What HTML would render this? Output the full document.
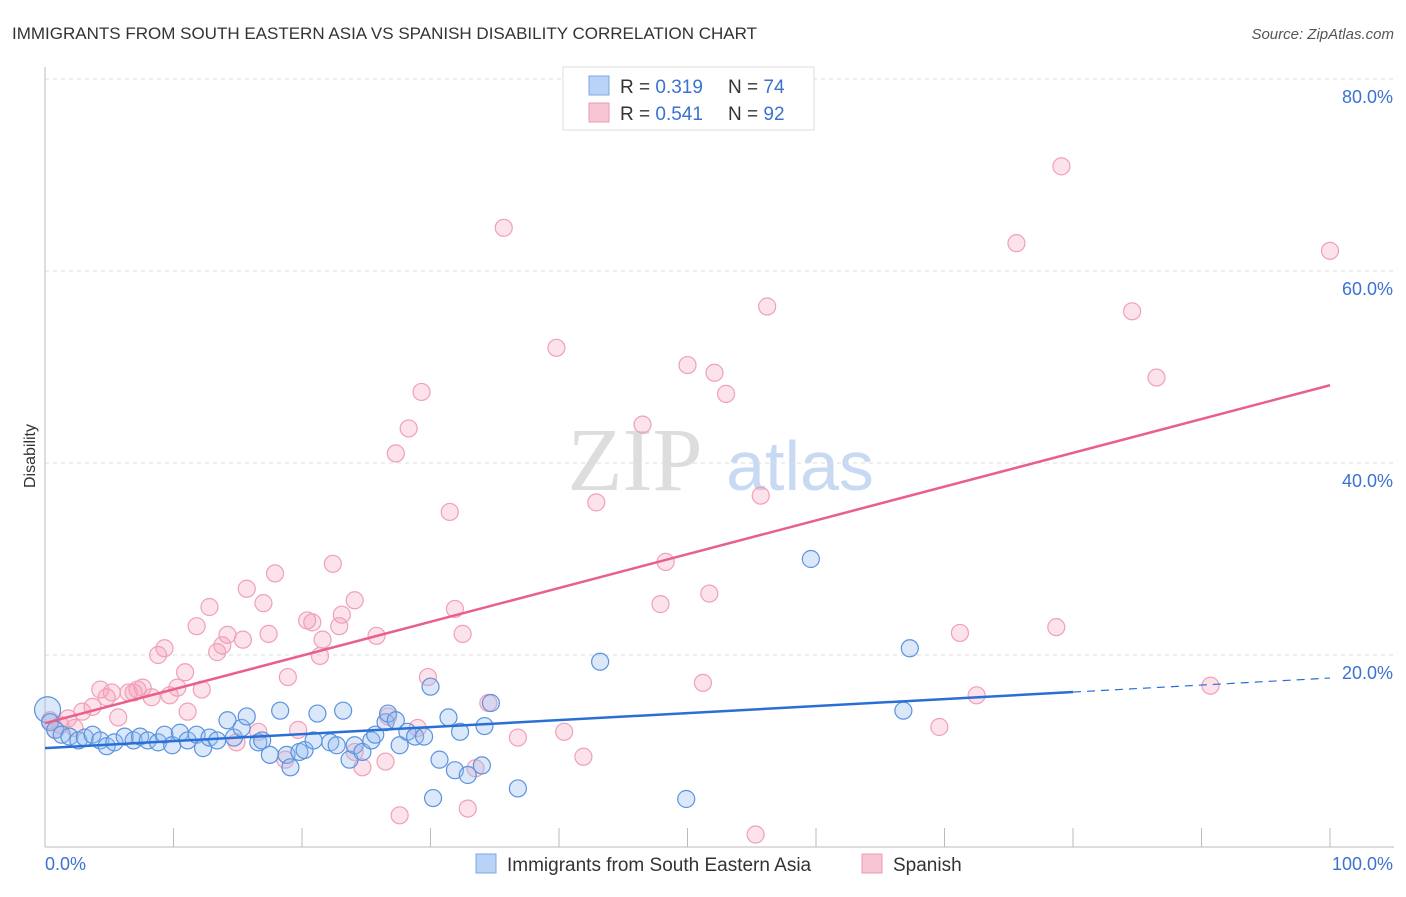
<!DOCTYPE html>
<html><head><meta charset="utf-8"><style>
body{margin:0;background:#fff;font-family:"Liberation Sans",sans-serif;}
</style></head><body>
<svg id="chart" width="1406" height="892" xmlns="http://www.w3.org/2000/svg" font-family="Liberation Sans, sans-serif">
<text x="12" y="39" font-size="17" fill="#333">IMMIGRANTS FROM SOUTH EASTERN ASIA VS SPANISH DISABILITY CORRELATION CHART</text>
<text x="1394" y="39" font-size="15" font-style="italic" fill="#555" text-anchor="end">Source: ZipAtlas.com</text>
<text x="35" y="456" font-size="16" fill="#333" text-anchor="middle" transform="rotate(-90 35 456)">Disability</text>
<g>
<text x="635" y="490" font-size="90" fill="#ddd" font-family="Liberation Serif, serif" text-anchor="middle">ZIP</text>
<text x="800" y="490" font-size="70" fill="#c8daf3" text-anchor="middle">atlas</text>
</g>
<g id="grid"></g><g id="axes"></g><g id="marks"></g><g id="lines"></g>
<g>
<rect x="563" y="67" width="251" height="63" fill="#fff" stroke="#ddd"/>
<rect x="589" y="76" width="20" height="19" fill="#b8d3f5" stroke="#7aa7e3"/>
<rect x="589" y="103" width="20" height="19" fill="#f8c5d4" stroke="#ee9ab3"/>
<text x="620" y="93" font-size="19" fill="#333">R = <tspan fill="#3a72d0">0.319</tspan></text>
<text x="728" y="93" font-size="19" fill="#333">N = <tspan fill="#3a72d0">74</tspan></text>
<text x="620" y="120" font-size="19" fill="#333">R = <tspan fill="#3a72d0">0.541</tspan></text>
<text x="728" y="120" font-size="19" fill="#333">N = <tspan fill="#3a72d0">92</tspan></text>
</g>
<g>
<rect x="476" y="854" width="20" height="19" fill="#b8d3f5" stroke="#7aa7e3"/>
<text x="507" y="871" font-size="19" fill="#333">Immigrants from South Eastern Asia</text>
<rect x="862" y="854" width="20" height="19" fill="#f8c5d4" stroke="#ee9ab3"/>
<text x="893" y="871" font-size="19" fill="#333">Spanish</text>
</g>
</svg>
<script>
const yTicks=[20,40,60,80];
const yTickLabels=["20.0%","40.0%","60.0%","80.0%"];
const xTickLabels=["0.0%","100.0%"];
const blueX=[0.2,0.4,0.8,1.3,1.9,2.6,3.1,3.7,4.3,4.8,5.4,6.2,6.9,7.4,8.0,8.8,9.3,9.9,10.5,11.1,11.8,12.3,12.8,13.4,14.2,14.7,15.3,15.7,16.6,16.9,17.5,18.3,18.8,19.1,19.8,20.2,20.9,21.2,22.2,22.7,23.2,23.7,24.1,24.7,25.4,25.7,26.5,26.7,27.3,27.6,28.2,28.8,29.5,30.0,30.2,30.7,31.4,31.9,32.3,32.9,34.0,34.2,34.7,36.8,43.2,49.9,59.6,67.3,66.8];
const blueY=[14.3,13.0,12.2,11.7,11.5,11.1,11.4,11.7,11.1,10.5,10.9,11.5,11.1,11.5,11.1,10.9,11.7,10.6,11.9,11.1,11.7,10.3,11.4,11.1,13.2,11.4,12.4,13.6,10.9,11.1,9.6,14.2,9.6,8.3,9.9,10.1,11.1,13.9,10.9,10.6,14.2,9.1,10.6,9.9,11.1,11.7,13.0,13.9,13.2,10.6,12.0,11.5,11.5,16.7,5.1,9.1,13.5,8.0,12.0,7.5,8.5,12.6,15.0,6.1,19.3,5.0,30.0,20.7,14.2];
const pinkX=[0.4,0.8,1.2,1.8,2.3,2.9,3.7,4.3,4.8,5.2,5.7,6.5,6.9,7.2,7.6,8.3,8.8,9.3,9.7,10.3,10.9,11.1,11.8,12.2,12.8,13.4,13.8,14.2,14.9,15.4,15.7,16.6,17.0,17.4,17.9,18.7,18.9,19.7,20.4,20.8,21.4,21.6,22.4,22.9,23.1,24.1,24.1,24.7,25.8,26.5,26.7,27.6,27.3,28.3,29.0,29.3,29.8,31.5,31.9,32.5,32.9,33.5,34.5,35.7,36.8,39.8,40.4,41.9,42.9,46.5,47.9,48.3,50.0,51.2,51.7,52.1,53.0,55.3,55.7,56.2,69.6,71.2,72.5,75.6,78.7,79.1,84.6,86.5,90.7,100];
const pinkY=[13.2,12.2,12.7,13.4,12.4,14.1,14.6,16.4,15.6,16.1,13.5,16.1,16.1,16.4,16.6,15.6,20.0,20.7,15.8,16.6,18.2,14.1,23.0,16.4,25.0,20.3,21.0,22.1,10.9,21.6,26.9,12.0,25.4,22.2,28.5,9.1,17.7,12.2,23.6,23.4,19.9,21.6,29.5,23.0,24.2,25.7,9.9,8.3,22.0,8.9,13.6,3.3,41.0,43.6,12.4,47.4,17.7,34.9,24.8,22.2,4.0,8.2,15.0,64.5,11.4,52.0,12.0,9.4,35.9,44.0,25.3,29.7,50.2,17.1,26.4,49.4,47.2,1.3,36.6,56.3,12.5,22.3,15.8,62.9,22.9,70.9,55.8,48.9,16.8,62.1];
const pinkTrend=[12.9,48.1];
const blueTrend=[10.3,17.6];
const blueSolidEnd=80;
const NS="http://www.w3.org/2000/svg";
const X0=45,X1=1330,Y0=847,PER=9.6;
const sx=v=>X0+(X1-X0)*v/100;
const sy=v=>Y0-v*PER;
function mk(tag,attrs,parent){const e=document.createElementNS(NS,tag);for(const k in attrs)e.setAttribute(k,attrs[k]);document.getElementById(parent).appendChild(e);return e;}
yTicks.forEach((t,i)=>{
 const g=mk('line',{x1:X0,x2:1394,y1:sy(t),y2:sy(t),stroke:'#ddd','stroke-dasharray':'4,4'},'grid');
 
 
 const l=mk('text',{x:1393,y:sy(t)+24,'font-size':18,fill:'#3a72d0','text-anchor':'end'},'grid');
 l.textContent=yTickLabels[i];
 
 
});
const ax=mk('line',{x1:X0,x2:X0,y1:67,y2:Y0,stroke:'#bbb'},'axes');


const bx=mk('line',{x1:X0,x2:1394,y1:Y0,y2:Y0,stroke:'#bbb'},'axes');


for(let i=1;i<=10;i++){const t=mk('line',{x1:sx(i*10),x2:sx(i*10),y1:828,y2:Y0,stroke:'#bbb'},'axes');
 
 }
[[0,'start',45],[100,'end',1393]].forEach((a,i)=>{const t=mk('text',{x:a[2],y:870,'font-size':18,fill:'#3a72d0','text-anchor':a[1]},'axes');t.textContent=xTickLabels[i];
 
 });
pinkX.forEach((x,i)=>{const c=mk('circle',{cx:sx(x),cy:sy(pinkY[i]),r:8.5,fill:'rgba(245,160,185,0.3)',stroke:'#f0a0b8','stroke-width':1.2},'marks');
 
 });
blueX.forEach((x,i)=>{const c=mk('circle',{cx:sx(x),cy:sy(blueY[i]),r:i===0?13:8.5,fill:'rgba(150,190,240,0.35)',stroke:'#5b93de','stroke-width':1.2},'marks');
 
 });
const bAt=v=>blueTrend[0]+(blueTrend[1]-blueTrend[0])*v/100;
const pl=mk('line',{x1:sx(0),y1:sy(pinkTrend[0]),x2:sx(100),y2:sy(pinkTrend[1]),stroke:'#e8608a','stroke-width':2.5},'lines');


const bl=mk('line',{x1:sx(0),y1:sy(bAt(0)),x2:sx(blueSolidEnd),y2:sy(bAt(blueSolidEnd)),stroke:'#2a6fd6','stroke-width':2.5},'lines');


const bd=mk('line',{x1:sx(blueSolidEnd),y1:sy(bAt(blueSolidEnd)),x2:sx(100),y2:sy(bAt(100)),stroke:'#2a6fd6','stroke-width':1.2,'stroke-dasharray':'8,6'},'lines');


</script>
</body></html>
